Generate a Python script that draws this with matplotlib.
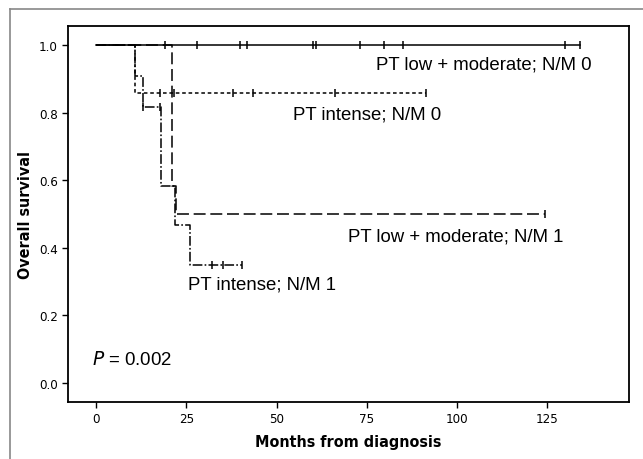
import matplotlib
matplotlib.use("Agg")
import matplotlib.pyplot as plt
from matplotlib import font_manager
from matplotlib.lines import Line2D

# ---- data ----
a_times = [0, 134.0]
a_surv = [1.0, 1.0]
a_cens = [19.1, 27.9, 39.9, 41.8, 60.1, 61.0, 73.2, 79.8, 85.0, 129.9, 134.0]

b_times = [0, 10.8, 91.4]
b_surv = [1.0, 0.857, 0.857]
b_cens = [17.7, 21.7, 38.0, 43.5, 66.2, 91.4]

c_times = [0, 21.1, 22.1, 124.3]
c_surv = [1.0, 0.583, 0.5, 0.5]
c_cens = [124.3]

d_times = [0, 10.8, 12.9, 18.0, 21.9, 26.0, 40.4]
d_surv = [1.0, 0.909, 0.818, 0.584, 0.467, 0.35, 0.35]
d_cens = [12.9, 17.6, 32.0, 35.3, 40.4]

labels = ["PT low + moderate; N/M 0", "PT intense; N/M 0",
          "PT low + moderate; N/M 1", "PT intense; N/M 1"]
x_ticks = [0, 25, 50, 75, 100, 125]
y_ticks = [0.0, 0.2, 0.4, 0.6, 0.8, 1.0]

# look for a condensed / narrow face
narrow_props = None
for f in font_manager.fontManager.ttflist:
    fn = f.fname.lower()
    if ('narrow' in fn or 'condensed' in fn) and 'oblique' not in fn and 'italic' not in fn:
        narrow_props = f
        break

def narrow_kw(bold=False):
    if narrow_props is None:
        return dict(family='Liberation Sans', fontweight='bold' if bold else 'normal')
    return dict(family=narrow_props.name, fontstretch='condensed',
                fontweight='bold' if bold else 'normal')

plt.rcParams['font.family'] = ['Liberation Sans', 'DejaVu Sans']
plt.rcParams['lines.scale_dashes'] = False

fig = plt.figure(figsize=(6.43, 4.60), dpi=100)
ax = fig.add_axes([68.3/643, 1-403/460, (628.7-68.3)/643, (403-26.7)/460])

def step_at(times, surv, cens_list):
    out = []
    for c in cens_list:
        v = surv[0]
        for t, s in zip(times, surv):
            if t <= c:
                v = s
        out.append(v)
    return out

lw = 1.1
ax.step(a_times, a_surv, where='post', color='black', lw=lw, linestyle='-')
ax.step(b_times, b_surv, where='post', color='black', lw=lw, linestyle=(0, (2.6, 2.0)))
ax.step(c_times, c_surv, where='post', color='black', lw=lw, linestyle=(0, (8.6, 3.4)))
ax.step(d_times, d_surv, where='post', color='black', lw=lw, linestyle=(0, (7, 1.6, 1.2, 1.6)))

for t, s, cl in [(a_times, a_surv, a_cens), (b_times, b_surv, b_cens),
                 (c_times, c_surv, c_cens), (d_times, d_surv, d_cens)]:
    ax.plot(cl, step_at(t, s, cl), linestyle='none', marker='|', color='black',
            markersize=5.5, markeredgewidth=1.1)

ax.set_xlim(-7.7, 147.6)
ax.set_ylim(-0.056, 1.057)
ax.set_xticks(x_ticks)
ax.set_xticklabels([str(v) for v in x_ticks], fontsize=9.5, **narrow_kw())
ax.set_yticks(y_ticks)
ax.set_yticklabels([f"{v:.1f}" for v in y_ticks], fontsize=9.5, **narrow_kw())
ax.tick_params(direction='out', length=4.5, width=1.0, pad=3)
for sp in ax.spines.values():
    sp.set_linewidth(1.3)

ax.set_xlabel("Months from diagnosis", fontsize=11.5, labelpad=6, **narrow_kw(True))
ax.set_ylabel("Overall survival", fontsize=11.5, labelpad=4, **narrow_kw(True))

fs = 13.4
ax.text(77.5, 0.945, labels[0], fontsize=fs, va='center', ha='left')
ax.text(54.6, 0.796, labels[1], fontsize=fs, va='center', ha='left')
ax.text(69.8, 0.435, labels[2], fontsize=fs, va='center', ha='left')
ax.text(25.5, 0.293, labels[3], fontsize=fs, va='center', ha='left')
ax.text(-1.1, 0.072, r"$\it{P}$ = 0.002", fontsize=fs, va='center', ha='left')

# outer gray frame
fig.add_artist(Line2D([10/643, 10/643], [0, 1-10/460], color='#888888', lw=1.2, transform=fig.transFigure))
fig.add_artist(Line2D([10/643, 1], [1-10/460, 1-10/460], color='#888888', lw=1.2, transform=fig.transFigure))

fig.savefig("out.png", dpi=100)
